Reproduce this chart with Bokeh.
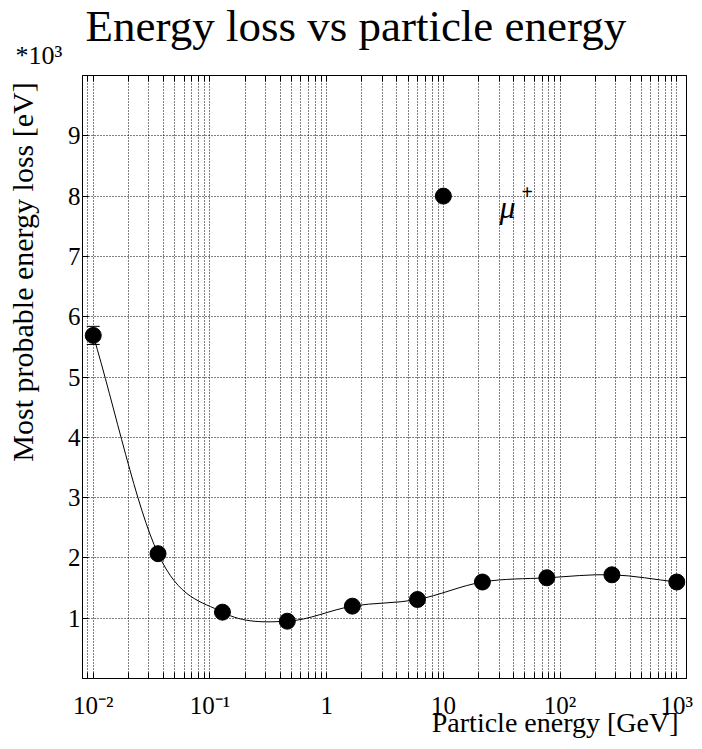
import numpy as np
from bokeh.plotting import figure
from bokeh.models import (ColumnDataSource, FixedTicker, LogAxis, LinearAxis,
                          Label, Whisker, TeeHead, Range1d, Title)
from bokeh.embed import file_html
from bokeh.resources import INLINE

# ---------------- data ----------------
energy_gev = [0.0100, 0.0359, 0.128, 0.46, 1.66, 6.0, 21.6, 77.0, 278.0, 1000.0]
eloss_kev = [5.69, 2.07, 1.10, 0.95, 1.20, 1.31, 1.60, 1.67, 1.72, 1.60]
eloss_err = [0.15, 0.05, 0.04, 0.04, 0.04, 0.04, 0.05, 0.05, 0.05, 0.05]
legend_x = [10.0]
legend_y = [8.0]
x_decades = [0.01, 0.1, 1.0, 10.0, 100.0, 1000.0]
x_decade_labels = ["10⁻²", "10⁻¹", "1", "10", "10²", "10³"]
y_ticks = [1, 2, 3, 4, 5, 6, 7, 8, 9]

FONT = "Liberation Serif"
X0, X1 = 0.00809, 1211.0
Y0, Y1 = 0.0, 10.0

kw = dict(width=702, height=749, x_axis_type="log",
          x_range=Range1d(X0, X1), y_range=Range1d(Y0, Y1),
          output_backend="svg", toolbar_location=None,
          min_border_left=82, min_border_right=16,
          min_border_top=75, min_border_bottom=71)
try:
    p = figure(title=None, **kw)
except Exception:
    p = figure(**kw)
    p.title.visible = False
p.outline_line_color = "black"
p.outline_line_width = 1
p.background_fill_color = "white"
p.border_fill_color = "white"


def safe_set(obj, name, values):
    for v in values:
        try:
            setattr(obj, name, v)
            return True
        except Exception:
            pass
    return False


x_minor = [k * d for d in [0.001, 0.01, 0.1, 1.0, 10.0, 100.0, 1000.0]
           for k in range(2, 10) if X0 <= k * d <= X1]
xticker = FixedTicker(ticks=x_decades, minor_ticks=sorted(x_minor))
yticker = FixedTicker(ticks=y_ticks, minor_ticks=[])

# bottom axis
xa = p.xaxis[0]
xa.ticker = xticker
xa.major_label_overrides = dict(zip(x_decades, x_decade_labels))
xa.major_tick_in = 6
xa.major_tick_out = 0
xa.minor_tick_in = 6
xa.minor_tick_out = 0
xa.major_label_standoff = 13
xa.major_label_text_font = FONT
xa.major_label_text_font_size = "25px"
xa.major_label_text_color = "black"
xa.axis_line_color = "black"
xa.major_tick_line_color = "black"
xa.minor_tick_line_color = "black"

# left axis; title text sits at the top end of the axis (leading no-break
# spaces push the centred label towards the top, as in the reference)
ya = p.yaxis[0]
ya.ticker = yticker
ya.major_tick_in = 6
ya.major_tick_out = 0
ya.minor_tick_in = 0
ya.minor_tick_out = 0
ya.major_label_standoff = 2
ya.major_label_text_font = FONT
ya.major_label_text_font_size = "25px"
ya.major_label_text_color = "black"
ya.axis_line_color = "black"
ya.major_tick_line_color = "black"
ya.axis_label = "\u00a0" * 28 + "Most probable energy loss [eV]"
ya.axis_label_text_font = FONT
ya.axis_label_text_font_size = "30px"
ya.axis_label_text_font_style = "normal"
ya.axis_label_text_color = "black"
ya.axis_label_standoff = 26

# top / right tick axes (labels hidden)
top = LogAxis(ticker=xticker, major_tick_in=6, major_tick_out=0,
              minor_tick_in=6, minor_tick_out=0, major_label_text_font_size="1px",
              major_label_text_color=None, axis_line_color="black",
              major_label_standoff=0)
p.add_layout(top, "above")
right = LinearAxis(ticker=yticker, major_tick_in=6, major_tick_out=0,
                   minor_tick_in=0, minor_tick_out=0, major_label_text_font_size="1px",
                   major_label_text_color=None, axis_line_color="black",
                   major_label_standoff=0)
p.add_layout(right, "right")

# exponent and main title (stacked above the frame)
t_exp = Title(text="*10³", align="left", offset=-67, vertical_align="bottom",
              text_font=FONT, text_font_size="26px", text_font_style="normal",
              text_color="black")
safe_set(t_exp, "standoff", [11])
p.add_layout(t_exp, "above")
t_main = Title(text="Energy loss vs particle energy", align="left", offset=3,
               vertical_align="bottom", text_font=FONT, text_font_size="45px",
               text_font_style="normal", text_color="black")
safe_set(t_main, "standoff", [-35, 0])
p.add_layout(t_main, "above")

# x axis title, right aligned below the axis
t_x = Title(text="Particle energy [GeV]", align="right", offset=8, vertical_align="top",
            text_font=FONT, text_font_size="28px", text_font_style="normal",
            text_color="black")
safe_set(t_x, "standoff", [-30, 0])
p.add_layout(t_x, "below")

# grids
p.xgrid.ticker = xticker
p.xgrid.grid_line_color = "black"
p.xgrid.grid_line_dash = "1 2"
p.xgrid.grid_line_width = 1
p.xgrid.minor_grid_line_color = "black"
p.xgrid.minor_grid_line_dash = "1 2"
p.xgrid.minor_grid_line_width = 1
p.ygrid.ticker = yticker
p.ygrid.grid_line_color = "black"
p.ygrid.grid_line_dash = "1 2"
p.ygrid.grid_line_width = 1

# smooth curve (Catmull-Rom as cubic Bezier in log-x space)
lx = np.log10(np.array(energy_gev))
ly = np.array(eloss_kev)
tx = np.empty_like(lx)
ty = np.empty_like(ly)
tx[1:-1] = (lx[2:] - lx[:-2]) / 2.0
ty[1:-1] = (ly[2:] - ly[:-2]) / 2.0
tx[0], ty[0] = lx[1] - lx[0], ly[1] - ly[0]
tx[-1], ty[-1] = lx[-1] - lx[-2], ly[-1] - ly[-2]
bz = ColumnDataSource(dict(
    x0=10 ** lx[:-1], y0=ly[:-1], x1=10 ** lx[1:], y1=ly[1:],
    cx0=10 ** (lx[:-1] + tx[:-1] / 3.0), cy0=ly[:-1] + ty[:-1] / 3.0,
    cx1=10 ** (lx[1:] - tx[1:] / 3.0), cy1=ly[1:] - ty[1:] / 3.0))
p.bezier(x0="x0", y0="y0", x1="x1", y1="y1", cx0="cx0", cy0="cy0",
         cx1="cx1", cy1="cy1", source=bz, line_color="black", line_width=1)

# error bars
src = ColumnDataSource(dict(
    x=energy_gev, y=eloss_kev,
    lo=[v - e for v, e in zip(eloss_kev, eloss_err)],
    hi=[v + e for v, e in zip(eloss_kev, eloss_err)]))
p.add_layout(Whisker(base="x", lower="lo", upper="hi", source=src,
                     line_color="black", line_width=1,
                     upper_head=TeeHead(size=13, line_color="black", line_width=1),
                     lower_head=TeeHead(size=13, line_color="black", line_width=1)))

# markers
p.scatter("x", "y", source=src, size=16, fill_color="black", line_color="black")
p.scatter(legend_x, legend_y, size=16, fill_color="black", line_color="black")

# legend text
p.add_layout(Label(x=legend_x[0], y=legend_y[0], text="μ", x_offset=56, y_offset=-11,
                   text_font=FONT, text_font_style="italic", text_font_size="32px",
                   text_color="black", text_baseline="alphabetic", text_align="left"))
p.add_layout(Label(x=legend_x[0], y=legend_y[0], text="+", x_offset=78, y_offset=4,
                   text_font=FONT, text_font_size="20px", text_font_style="bold",
                   text_color="black", text_baseline="alphabetic", text_align="left"))

open("out.html", "w").write(file_html(p, INLINE))
